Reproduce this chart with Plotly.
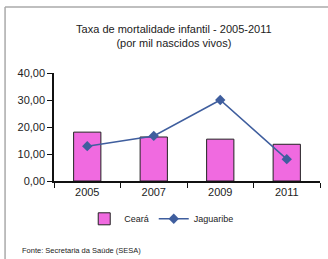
import plotly.graph_objects as go

years = ["2005", "2007", "2009", "2011"]
ceara = [18.1, 16.3, 15.5, 13.6]
jaguaribe = [12.9, 16.7, 30.0, 8.1]
y_ticks = [0, 10, 20, 30, 40]

fig = go.Figure()
fig.add_trace(go.Bar(x=years, y=ceara, name="Ceará", width=0.41,
                     marker=dict(color="#F06AE0", line=dict(color="#222222", width=1))))
fig.add_trace(go.Scatter(x=years, y=jaguaribe, name="Jaguaribe", mode="lines+markers",
                         line=dict(color="#3F5E9E", width=1.5),
                         marker=dict(symbol="diamond", size=8, color="#3F5E9E")))

fig.update_layout(
    width=328, height=259,
    margin=dict(l=54, r=8, t=73, b=78, autoexpand=False),
    paper_bgcolor="white", plot_bgcolor="white",
    font=dict(family="Liberation Sans, Arial, sans-serif", color="#222222", size=10),
    separators=",.",
    showlegend=True,
    title=dict(text="Taxa de mortalidade infantil - 2005-2011<br>(por mil nascidos vivos)",
               x=0.53, xanchor="center", y=0.874, yanchor="top",
               font=dict(size=11, color="#222222")),
    legend=dict(orientation="h", x=0.405, xanchor="center", y=-0.35, yanchor="middle",
                font=dict(size=9), itemwidth=30, tracegroupgap=0),
    bargap=0.59,
    shapes=[
        dict(type="line", xref="paper", yref="paper", x0=-0.184, x1=-0.184, y0=1.61, y1=-0.75,
             line=dict(color="#AAAAAA", width=1.5)),
        dict(type="line", xref="paper", yref="paper", x0=-0.184, x1=1.05, y0=1.61, y1=1.61,
             line=dict(color="#AAAAAA", width=1.5)),
    ],
    annotations=[dict(text="Fonte: Secretaria da Saúde (SESA)", xref="paper", yref="paper",
                      x=-0.128, y=-0.64, xanchor="left", yanchor="middle", showarrow=False,
                      font=dict(size=7.5, color="#222222"))],
)
fig.update_xaxes(type="category", showline=True, linecolor="#111111", linewidth=1.5,
                 ticks="outside", tickson="boundaries", ticklen=5, tickcolor="#111111",
                 tickfont=dict(size=11), showgrid=False)
fig.update_yaxes(range=[0, 40], tickvals=y_ticks, tickformat=".2f", showline=True,
                 linecolor="#111111", linewidth=1.5, ticks="outside", ticklen=5,
                 tickcolor="#111111", showgrid=False, zeroline=False, tickfont=dict(size=11))

fig.write_html("out.html", config={"displayModeBar": False},
               post_script="document.body.style.margin='0';document.body.style.padding='0';")
